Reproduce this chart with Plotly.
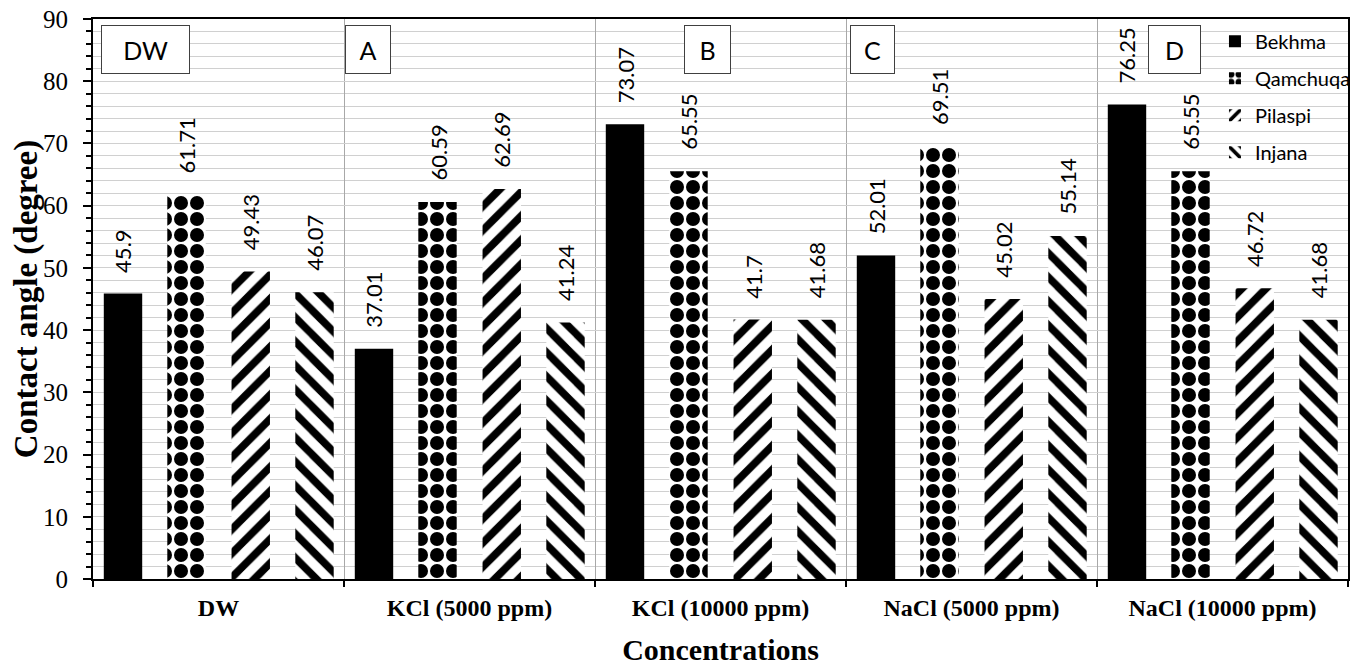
import plotly.graph_objects as go

# data
concentrations = ["DW", "KCl (5000 ppm)", "KCl (10000 ppm)", "NaCl (5000 ppm)", "NaCl (10000 ppm)"]
bekhma = [45.9, 37.01, 73.07, 52.01, 76.25]
qamchuqa = [61.71, 60.59, 65.55, 69.51, 65.55]
pilaspi = [49.43, 62.69, 41.7, 45.02, 46.72]
injana = [46.07, 41.24, 41.68, 55.14, 41.68]
panel_labels = ["DW", "A", "B", "C", "D"]

series = [
    ("Bekhma", bekhma, ""),
    ("Qamchuqa", qamchuqa, "."),
    ("Pilaspi", pilaspi, "/"),
    ("Injana", injana, "\\"),
]

serif = "Liberation Serif, Times New Roman, serif"
sans = "Lato, Noto Sans, sans-serif"

bar_w = 0.153
offsets = [-0.457, -0.204, 0.052, 0.306]

fig = go.Figure()
annotations = []

for k, (name, vals, shape) in enumerate(series):
    fig.add_trace(go.Bar(
        x=concentrations, y=vals, name=name,
        width=bar_w, offset=offsets[k],
        legendgroup=name,
        marker=dict(
            color="black",
            line=dict(width=0),
            pattern=dict(shape=shape, fgcolor="black", bgcolor="white",
                         size=16 if shape == "." else 17,
                         solidity=0.6 if shape == "." else 0.45,
                         fillmode="replace"),
        ),
    ))
    # value labels above each bar, rotated
    for i, v in enumerate(vals):
        annotations.append(dict(
            x=i + offsets[k] + bar_w / 2, y=v, xref="x", yref="y",
            text=str(v), textangle=-90, showarrow=False,
            xanchor="center", yanchor="bottom", yshift=19,
            font=dict(family=sans, size=22, color="black"),
        ))

# panel boxes
box_x = [0.0063, 0.2011, 0.4711, 0.6033, 0.8409]
box_w = [87, 44, 45, 43, 51]
for lab, bx, bw in zip(panel_labels, box_x, box_w):
    annotations.append(dict(
        x=bx, y=0.989, xref="paper", yref="paper",
        xanchor="left", yanchor="top", showarrow=False,
        text=lab, width=bw, height=47, borderpad=0,
        bordercolor="#404040", borderwidth=1, bgcolor="white",
        font=dict(family=sans, size=25, color="black"),
    ))

# page body has an 8px margin, so the figure is 8px smaller than the window
fig.update_layout(
    width=1359, height=658,
    margin=dict(l=85, r=11, t=11, b=87),
    barmode="overlay",
    plot_bgcolor="white", paper_bgcolor="white",
    annotations=annotations,
    showlegend=True,
    legend=dict(
        x=0.894, y=0.995, xanchor="left", yanchor="top",
        bgcolor="rgba(0,0,0,0)", borderwidth=0,
        font=dict(family=sans, size=20, color="black"),
        tracegroupgap=8, itemwidth=30,
    ),
    xaxis=dict(
        automargin=False,
        tickson="boundaries", ticks="outside", ticklen=6, tickwidth=2, tickcolor="black",
        showgrid=True, gridcolor="#a8a8a8", gridwidth=1,
        showline=True, linecolor="black", linewidth=2, mirror=True,
        ticklabelstandoff=6,
        tickfont=dict(family=serif, size=24, color="black", weight="bold"),
        title=dict(text="Concentrations", standoff=20,
                   font=dict(family=serif, size=30, color="black", weight="bold")),
    ),
    yaxis=dict(
        automargin=False,
        range=[0, 90], dtick=10, ticklabeloverflow="allow",
        ticks="outside", ticklen=8, tickwidth=2, tickcolor="black",
        showgrid=True, gridcolor="#d0d0d0", gridwidth=1,
        minor=dict(dtick=2, ticks="outside", ticklen=5, tickwidth=2, tickcolor="black",
                   showgrid=True, gridcolor="#d0d0d0", gridwidth=1),
        showline=True, linecolor="black", linewidth=2, mirror=True,
        zeroline=False, ticklabelstandoff=10,
        tickfont=dict(family=serif, size=25, color="black"),
        title=dict(text="Contact angle (degree)", standoff=10,
                   font=dict(family=serif, size=33, color="black", weight="bold")),
    ),
)

fig.write_html("out.html")
